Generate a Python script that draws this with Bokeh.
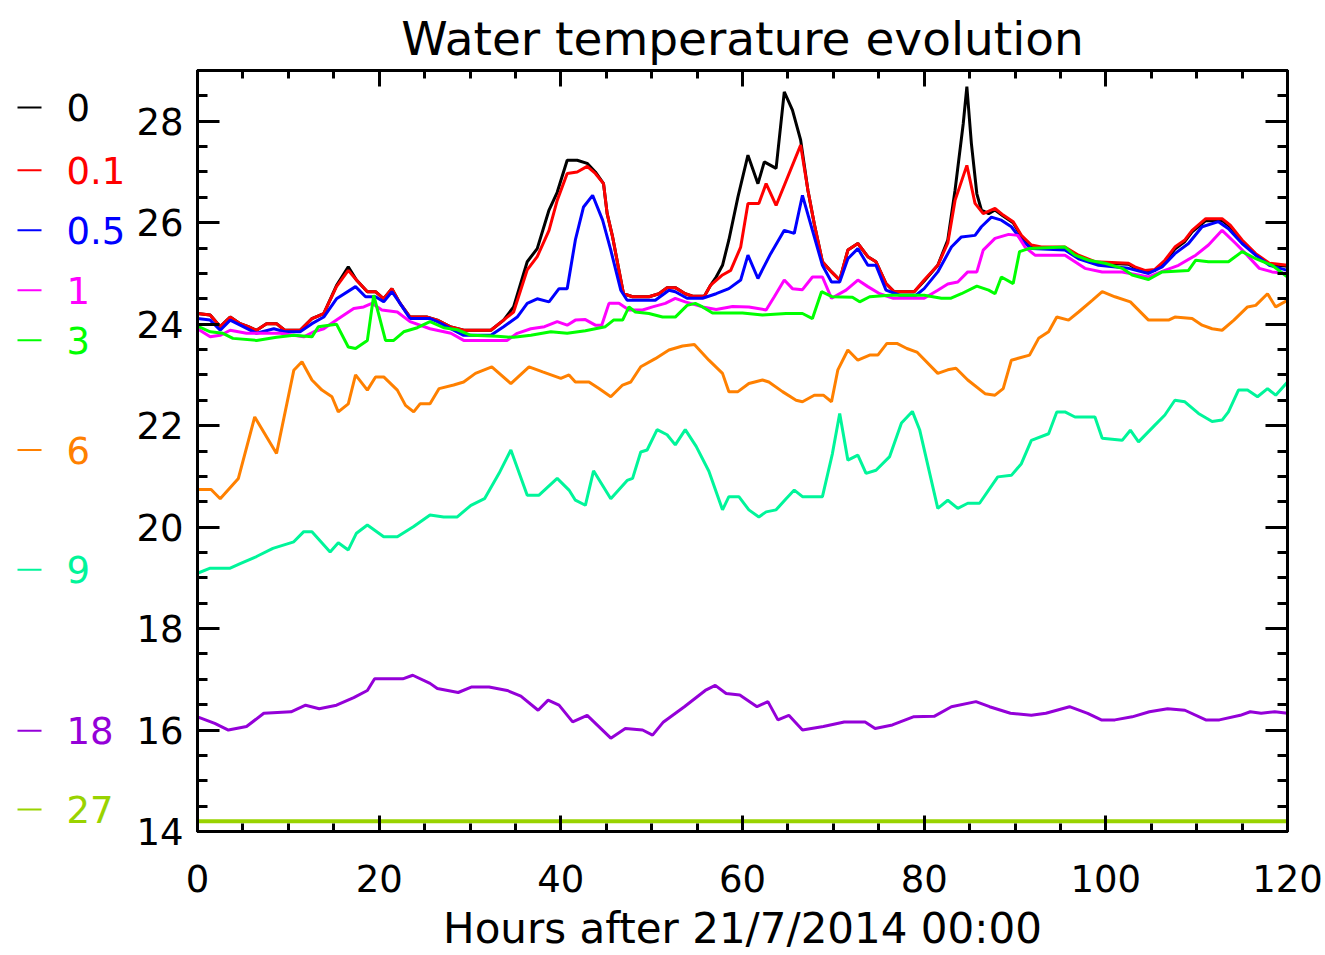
from bokeh.plotting import figure
from bokeh.layouts import row
from bokeh.models import LinearAxis, SingleIntervalTicker, Range1d, CustomJSTickFormatter
from bokeh.core.properties import value
from bokeh.embed import file_html
from bokeh.resources import INLINE

# ---------------- data (hours after 21/7/2014 00:00, temperature degC) ----------------
depth_labels = ["0", "0.1", "0.5", "1", "3", "6", "9", "18", "27"]
colors = ["#000000", "#ff0000", "#0000ff", "#ff00ff", "#00ff00", "#ff8000", "#00f59a", "#9400d8", "#99d300"]

h_0 = [0, 1.4, 2.5, 3.6, 4.7, 5.6, 6.5, 7.6, 8.7, 9.6, 11.3, 12.6, 13.9, 15.3, 16.6, 17.5, 18.7, 19.6, 20.5, 21.4,
       22.3, 23.4, 25.3, 26.4, 27.8, 29.3, 32.3, 33.7, 34.8, 36.3, 37.4, 38.7, 39.6, 40.7, 41.8, 42.9, 43.8, 44.7,
       45.1, 45.7, 46.4, 46.9, 47.9, 49.7, 50.8, 51.7, 52.6, 53.7, 54.5, 55.8, 56.5, 57.1, 57.8, 58.5, 59.5, 60.6,
       61.7, 62.4, 63.7, 64.6, 65.5, 66.4, 67.2, 67.9, 68.8, 69.8, 70.7, 71.6, 72.7, 73.8, 74.7, 75.8, 76.7, 78.9,
       80.0, 81.5, 82.6, 83.4, 84.3, 84.7, 85.2, 85.8, 86.3, 87.1, 87.8, 88.7, 89.8, 90.7, 91.8, 92.9, 95.5, 97.0,
       98.8, 102.5, 103.2, 104.3, 105.4, 106.5, 107.6, 108.7, 109.5, 111.0, 112.8, 113.7, 115.0, 116.5, 118.0, 120]
t_0 = [24.21, 24.18, 23.95, 24.14, 24.01, 23.95, 23.88, 24.01, 24.01, 23.88, 23.88, 24.11, 24.21, 24.76, 25.13,
       24.87, 24.64, 24.64, 24.5, 24.7, 24.41, 24.14, 24.14, 24.08, 23.95, 23.88, 23.88, 24.08, 24.34, 25.23, 25.49,
       26.25, 26.6, 27.23, 27.23, 27.17, 27.0, 26.77, 26.18, 25.72, 25.06, 24.6, 24.54, 24.54, 24.6, 24.72, 24.72,
       24.6, 24.55, 24.55, 24.77, 24.93, 25.16, 25.66, 26.51, 27.33, 26.77, 27.2, 27.07, 28.58, 28.22, 27.63, 26.64,
       25.98, 25.23, 25.03, 24.87, 25.46, 25.59, 25.33, 25.23, 24.8, 24.64, 24.64, 24.85, 25.16, 25.66, 26.64, 27.95,
       28.68, 27.56, 26.57, 26.25, 26.18, 26.25, 26.13, 26.0, 25.73, 25.54, 25.5, 25.5, 25.34, 25.21, 25.18, 25.11,
       25.04, 25.06, 25.23, 25.48, 25.63, 25.82, 26.04, 26.04, 25.92, 25.63, 25.37, 25.18, 25.14]

h_01 = [0, 1.4, 2.5, 3.6, 4.7, 5.6, 6.5, 7.6, 8.7, 9.6, 11.3, 12.6, 13.9, 15.3, 16.6, 17.5, 18.7, 19.6, 20.5, 21.4,
        22.3, 23.4, 25.3, 26.4, 27.8, 29.3, 32.3, 33.7, 34.8, 36.3, 37.4, 38.7, 39.6, 40.7, 41.8, 42.9, 43.8, 44.7,
        45.1, 45.7, 46.4, 46.9, 47.9, 49.7, 50.8, 51.7, 52.6, 53.7, 54.5, 55.8, 56.5, 57.8, 58.7, 59.8, 60.6, 61.8,
        62.6, 63.7, 66.4, 67.2, 67.9, 68.8, 69.8, 70.7, 71.6, 72.7, 73.8, 74.7, 75.8, 76.7, 78.9, 80.0, 81.5, 82.6,
        83.4, 84.7, 85.6, 86.5, 87.8, 88.7, 89.8, 90.7, 91.8, 92.9, 95.5, 97.0, 98.8, 102.5, 103.2, 104.3, 105.4,
        106.5, 107.6, 108.7, 109.5, 111.0, 112.8, 113.7, 115.0, 116.5, 118.0, 120]
t_01 = [24.21, 24.18, 23.95, 24.14, 24.01, 23.95, 23.88, 24.01, 24.01, 23.88, 23.88, 24.11, 24.21, 24.74, 25.06,
        24.87, 24.64, 24.64, 24.5, 24.7, 24.41, 24.14, 24.14, 24.08, 23.95, 23.88, 23.88, 24.08, 24.24, 25.07, 25.33,
        25.85, 26.44, 26.97, 27.0, 27.11, 26.97, 26.77, 26.18, 25.72, 25.06, 24.6, 24.54, 24.54, 24.6, 24.72, 24.72,
        24.6, 24.55, 24.55, 24.77, 24.97, 25.06, 25.52, 26.38, 26.38, 26.77, 26.34, 27.53, 26.64, 25.98, 25.23, 25.03,
        24.87, 25.46, 25.59, 25.33, 25.23, 24.8, 24.64, 24.64, 24.87, 25.16, 25.6, 26.44, 27.13, 26.38, 26.18, 26.28,
        26.15, 26.02, 25.75, 25.56, 25.52, 25.52, 25.36, 25.23, 25.2, 25.13, 25.06, 25.08, 25.26, 25.52, 25.66, 25.85,
        26.08, 26.08, 25.95, 25.66, 25.39, 25.2, 25.16]

h_05 = [0, 1.4, 2.5, 3.6, 4.7, 6.5, 8.4, 9.6, 11.3, 12.6, 13.9, 15.3, 17.4, 18.5, 19.6, 20.5, 21.4, 22.3, 23.4, 25.6,
        26.4, 29.3, 32.3, 33.7, 35.2, 36.3, 37.4, 38.7, 39.8, 40.7, 41.6, 42.5, 43.5, 44.6, 45.5, 46.6, 47.3, 50.4,
        51.9, 52.6, 53.9, 55.6, 57.1, 58.5, 59.8, 60.6, 61.7, 63.1, 64.6, 65.7, 66.6, 67.7, 68.8, 69.8, 70.7, 71.6,
        72.7, 73.8, 74.7, 75.8, 77.3, 79.1, 80.0, 81.5, 83.0, 84.1, 85.6, 86.3, 87.4, 88.5, 89.6, 90.7, 91.8, 95.5,
        97.0, 99.2, 102.5, 104.7, 106.2, 107.6, 109.1, 110.6, 112.4, 113.5, 115.0, 116.5, 118.0, 120]
t_05 = [24.11, 24.08, 23.88, 24.08, 23.98, 23.82, 23.91, 23.85, 23.85, 24.01, 24.14, 24.5, 24.74, 24.54, 24.54,
        24.44, 24.64, 24.41, 24.11, 24.11, 24.05, 23.78, 23.78, 23.95, 24.14, 24.41, 24.5, 24.44, 24.7, 24.7, 25.66,
        26.31, 26.54, 26.05, 25.46, 24.67, 24.47, 24.47, 24.67, 24.64, 24.51, 24.51, 24.6, 24.7, 24.87, 25.36, 24.9,
        25.39, 25.85, 25.79, 26.54, 25.85, 25.16, 24.83, 24.83, 25.29, 25.49, 25.16, 25.16, 24.67, 24.57, 24.57, 24.7,
        25.03, 25.52, 25.72, 25.75, 25.92, 26.11, 26.05, 25.92, 25.66, 25.49, 25.46, 25.29, 25.16, 25.1, 25.0, 25.13,
        25.39, 25.59, 25.92, 26.02, 25.88, 25.59, 25.36, 25.16, 25.06]

h_1 = [0, 1.4, 2.5, 3.6, 5.4, 7.2, 9.1, 11.7, 12.8, 13.9, 15.3, 17.2, 18.3, 19.2, 20.3, 22.0, 23.4, 25.6, 27.9, 29.3,
       34.1, 35.2, 36.7, 38.2, 39.6, 40.7, 41.6, 42.7, 43.8, 44.5, 45.3, 46.4, 47.5, 49.0, 50.1, 51.5, 52.6, 53.7,
       55.6, 57.1, 58.9, 60.7, 62.6, 63.5, 64.6, 65.5, 66.6, 67.7, 68.8, 69.8, 71.4, 72.7, 73.8, 75.1, 76.6, 80.0,
       81.5, 82.6, 83.7, 84.8, 85.8, 86.5, 87.8, 89.3, 90.3, 91.1, 92.2, 95.5, 97.7, 99.6, 101.8, 104.7, 106.5, 108.0,
       109.9, 111.3, 112.8, 114.3, 115.4, 116.9, 118.3, 120]
t_1 = [23.91, 23.75, 23.78, 23.88, 23.82, 23.82, 23.82, 23.75, 23.85, 23.91, 24.08, 24.31, 24.34, 24.41, 24.28, 24.24,
       24.05, 23.91, 23.82, 23.68, 23.68, 23.82, 23.91, 23.95, 24.05, 23.98, 24.08, 24.09, 23.98, 23.98, 24.41, 24.41,
       24.28, 24.28, 24.34, 24.41, 24.51, 24.44, 24.34, 24.29, 24.35, 24.34, 24.28, 24.54, 24.87, 24.7, 24.68, 24.93,
       24.93, 24.51, 24.67, 24.87, 24.74, 24.6, 24.51, 24.51, 24.67, 24.79, 24.83, 25.03, 25.03, 25.46, 25.69, 25.77,
       25.75, 25.52, 25.36, 25.36, 25.1, 25.03, 25.03, 24.93, 25.06, 25.16, 25.36, 25.56, 25.85, 25.59, 25.39, 25.1,
       25.03, 25.0]

h_3 = [0, 1.4, 2.8, 3.9, 6.5, 8.7, 10.6, 12.6, 13.3, 15.3, 16.6, 17.4, 18.7, 19.4, 20.7, 21.6, 22.7, 24.2, 25.6, 27.1,
       28.6, 30.1, 33.0, 34.8, 36.7, 38.9, 40.7, 42.7, 44.9, 45.8, 46.8, 47.5, 48.2, 49.7, 51.2, 52.6, 53.9, 54.8,
       55.6, 56.7, 60.0, 62.2, 64.8, 66.6, 67.7, 68.7, 69.9, 72.1, 72.9, 74.0, 76.2, 80.0, 81.9, 82.9, 84.1, 85.8,
       87.1, 87.8, 88.5, 89.8, 90.5, 91.5, 95.5, 96.6, 98.1, 99.9, 101.8, 102.9, 104.7, 106.2, 109.1, 109.9, 111.3,
       113.5, 115.0, 116.5, 118.3, 120]
t_3 = [23.96, 23.85, 23.82, 23.72, 23.68, 23.74, 23.78, 23.75, 23.95, 24.0, 23.55, 23.52, 23.68, 24.57, 23.68, 23.68,
       23.85, 23.93, 24.05, 23.93, 23.89, 23.78, 23.76, 23.74, 23.78, 23.85, 23.82, 23.87, 23.95, 24.08, 24.08, 24.34,
       24.24, 24.21, 24.14, 24.14, 24.37, 24.41, 24.34, 24.22, 24.22, 24.18, 24.21, 24.21, 24.11, 24.64, 24.54, 24.53,
       24.44, 24.54, 24.57, 24.57, 24.51, 24.51, 24.6, 24.75, 24.67, 24.6, 24.93, 24.8, 25.43, 25.49, 25.52, 25.36,
       25.26, 25.2, 25.1, 24.97, 24.88, 25.03, 25.06, 25.26, 25.23, 25.23, 25.43, 25.29, 25.16, 24.93]

h_6 = [0, 1.5, 2.5, 4.5, 6.3, 8.7, 10.6, 11.5, 12.6, 13.7, 14.8, 15.5, 16.6, 17.4, 18.7, 19.6, 20.5, 22.0, 22.9, 23.8,
       24.5, 25.6, 26.6, 28.2, 29.3, 30.6, 32.4, 34.5, 36.5, 38.0, 40.0, 40.9, 41.6, 43.1, 44.2, 45.5, 46.8, 47.7,
       48.8, 50.4, 51.9, 53.4, 54.7, 56.3, 57.8, 58.5, 59.5, 60.7, 62.2, 62.9, 64.4, 65.9, 66.6, 67.9, 68.9, 69.8,
       70.5, 71.6, 72.7, 74.0, 74.9, 75.9, 77.0, 78.1, 79.2, 81.5, 82.6, 83.5, 84.8, 86.7, 87.8, 88.7, 89.6, 91.6,
       92.6, 93.7, 94.6, 95.9, 97.0, 98.5, 99.6, 101.0, 102.7, 104.7, 106.9, 107.6, 109.5, 110.6, 111.7, 112.8, 114.1,
       115.6, 116.5, 117.8, 118.7, 120]
t_6 = [20.74, 20.74, 20.56, 20.96, 22.17, 21.45, 23.09, 23.26, 22.9, 22.7, 22.57, 22.27, 22.43, 23.0, 22.7, 22.96,
       22.96, 22.7, 22.4, 22.27, 22.43, 22.43, 22.73, 22.8, 22.86, 23.03, 23.16, 22.83, 23.16, 23.06, 22.93, 23.0,
       22.86, 22.86, 22.73, 22.57, 22.8, 22.86, 23.16, 23.32, 23.49, 23.57, 23.6, 23.29, 23.03, 22.67, 22.67, 22.83,
       22.9, 22.86, 22.67, 22.5, 22.47, 22.6, 22.6, 22.47, 23.1, 23.49, 23.29, 23.39, 23.39, 23.62, 23.62, 23.52,
       23.45, 23.03, 23.1, 23.13, 22.9, 22.63, 22.6, 22.73, 23.29, 23.39, 23.72, 23.85, 24.14, 24.08, 24.24, 24.47,
       24.64, 24.54, 24.44, 24.08, 24.08, 24.14, 24.11, 23.98, 23.91, 23.88, 24.08, 24.34, 24.37, 24.6, 24.34, 24.47]

h_9 = [0, 1.4, 3.6, 4.7, 6.5, 8.3, 10.6, 11.7, 12.6, 14.6, 15.5, 16.6, 17.5, 18.7, 20.5, 22.0, 23.8, 25.6, 27.1, 28.6,
       30.1, 31.6, 33.2, 34.5, 36.3, 37.6, 39.6, 40.9, 41.6, 42.7, 43.6, 45.5, 47.3, 47.9, 48.8, 49.5, 50.6, 51.7,
       52.6, 53.7, 54.9, 56.3, 57.8, 58.5, 59.6, 60.7, 61.8, 62.6, 63.7, 64.8, 65.7, 66.6, 68.8, 69.9, 70.7, 71.6,
       72.7, 73.6, 74.7, 76.2, 77.5, 78.7, 79.5, 81.5, 82.6, 83.7, 84.8, 86.1, 88.1, 89.6, 90.7, 91.8, 93.7, 94.6,
       95.5, 96.6, 98.8, 99.6, 101.8, 102.7, 103.6, 105.4, 106.5, 107.6, 108.7, 110.2, 111.7, 112.8, 113.5, 114.6,
       115.6, 116.7, 117.8, 118.7, 120]
t_9 = [19.09, 19.19, 19.19, 19.28, 19.42, 19.58, 19.71, 19.91, 19.91, 19.51, 19.69, 19.55, 19.88, 20.04, 19.81, 19.81,
       20.01, 20.24, 20.2, 20.2, 20.43, 20.56, 21.06, 21.52, 20.63, 20.63, 20.96, 20.73, 20.53, 20.43, 21.11, 20.56,
       20.92, 20.96, 21.48, 21.52, 21.92, 21.82, 21.62, 21.92, 21.59, 21.1, 20.34, 20.6, 20.6, 20.34, 20.2, 20.3,
       20.34, 20.56, 20.73, 20.6, 20.6, 21.45, 22.24, 21.32, 21.42, 21.06, 21.12, 21.39, 22.05, 22.28, 21.92, 20.37,
       20.53, 20.37, 20.47, 20.47, 20.99, 21.02, 21.25, 21.71, 21.84, 22.27, 22.27, 22.17, 22.17, 21.75, 21.71, 21.91,
       21.68, 22.01, 22.21, 22.5, 22.47, 22.24, 22.08, 22.11, 22.27, 22.7, 22.7, 22.57, 22.73, 22.6, 22.86]

h_18 = [0, 1.9, 3.4, 5.4, 7.3, 10.3, 11.9, 13.4, 15.3, 17.2, 18.7, 19.5, 22.6, 23.7, 25.6, 26.4, 28.7, 30.2, 32.1,
        34.1, 35.6, 37.5, 38.6, 39.8, 41.3, 42.9, 45.5, 47.1, 49.0, 50.1, 51.3, 53.6, 55.9, 57.0, 58.2, 59.7, 61.6,
        62.8, 63.9, 65.1, 66.6, 68.9, 71.2, 73.5, 74.6, 76.5, 78.8, 81.1, 83.0, 85.7, 87.2, 89.5, 91.8, 93.4, 96.0,
        98.0, 99.5, 101.0, 102.9, 104.8, 106.8, 108.7, 111.0, 112.5, 114.8, 115.9, 117.1, 118.6, 120]
t_18 = [16.26, 16.13, 16.0, 16.07, 16.33, 16.36, 16.49, 16.42, 16.49, 16.64, 16.78, 17.01, 17.01, 17.08, 16.92, 16.82,
        16.74, 16.85, 16.85, 16.78, 16.67, 16.39, 16.59, 16.49, 16.16, 16.29, 15.84, 16.03, 16.0, 15.9, 16.16, 16.46,
        16.78, 16.88, 16.72, 16.69, 16.46, 16.56, 16.2, 16.29, 16.0, 16.07, 16.16, 16.16, 16.03, 16.1, 16.26, 16.27,
        16.46, 16.56, 16.46, 16.33, 16.29, 16.33, 16.46, 16.33, 16.2, 16.2, 16.26, 16.36, 16.42, 16.39, 16.2, 16.2,
        16.29, 16.36, 16.33, 16.36, 16.33]

h_27 = [0, 120]
t_27 = [14.2, 14.2]

series_hours = [h_0, h_01, h_05, h_1, h_3, h_6, h_9, h_18, h_27]
series_temps = [t_0, t_01, t_05, t_1, t_3, t_6, t_9, t_18, t_27]

# legend rows: vertical positions in canvas pixels (layout only)
legend_rows_px = [107, 170, 230, 290, 340, 450, 570, 731, 810]

# ---------------- layout ----------------
H = 955
LEG_W = 130                      # width of the depth-legend strip
MAIN_W = 1325 - LEG_W
FT, FB = 70, 832                 # frame top / bottom in pixels
X0, X1, Y0, Y1 = 0, 120, 14, 29
FONT = "DejaVu Sans"

yr = Range1d(Y0, Y1)

p = figure(width=MAIN_W, height=H, x_range=Range1d(X0, X1), y_range=yr,
           output_backend="svg", toolbar_location=None,
           min_border_left=197 - LEG_W, min_border_right=38, min_border_top=FT, min_border_bottom=H - FB,
           title="Water temperature evolution")
below = p.below[0]
left = p.left[0]
p.xgrid.visible = False
p.ygrid.visible = False
p.outline_line_color = "black"
p.outline_line_width = 3
p.background_fill_color = "white"
p.border_fill_color = "white"

p.title.align = "center"
p.title.text_font = FONT
p.title.text_font_size = "47px"
p.title.text_font_style = "normal"
p.title.text_color = "black"
p.title.standoff = 10

blank = CustomJSTickFormatter(code="return '';")
right = LinearAxis(formatter=blank)
above = LinearAxis(formatter=blank)
p.add_layout(right, "right")
p.add_layout(above, "above")

for ax in [below, above]:
    ax.ticker = SingleIntervalTicker(interval=20, num_minor_ticks=4)
    ax.major_tick_in = 16
    ax.minor_tick_in = 8
for ax in [left, right]:
    ax.ticker = SingleIntervalTicker(interval=2, num_minor_ticks=4)
    ax.major_tick_in = 22
    ax.minor_tick_in = 10
for ax in [below, above, left, right]:
    ax.major_tick_out = 0
    ax.minor_tick_out = 0
    ax.axis_line_width = 3
    ax.axis_line_color = "black"
    ax.major_tick_line_width = 3
    ax.minor_tick_line_width = 3
    ax.major_tick_line_color = "black"
    ax.minor_tick_line_color = "black"
    ax.major_label_text_font = FONT
    ax.major_label_text_font_size = "37px"
    ax.major_label_text_color = "black"
for ax in [above, right]:
    ax.major_label_standoff = 0

below.major_label_standoff = 33
below.axis_label = "Hours after 21/7/2014 00:00"
below.axis_label_text_font = FONT
below.axis_label_text_font_size = "42px"
below.axis_label_text_font_style = "normal"
below.axis_label_text_color = "black"
below.axis_label_standoff = 9
left.major_label_standoff = 14

for hrs, tmp, col in zip(series_hours, series_temps, colors):
    lw = 4 if col == colors[-1] else 3
    p.line(hrs, tmp, line_color=col, line_width=lw)

# ---------------- depth legend strip at the left (shares the y scale) ----------------
lg = figure(width=LEG_W, height=H, x_range=Range1d(0, LEG_W), y_range=yr,
            output_backend="svg", toolbar_location=None,
            min_border_left=0, min_border_right=0, min_border_top=FT, min_border_bottom=H - FB)
lg.axis.visible = False
lg.grid.visible = False
lg.outline_line_color = None
lg.background_fill_color = "white"
lg.border_fill_color = "white"

def px_to_y(py):
    return Y1 - (py - FT) * (Y1 - Y0) / (FB - FT)

leg_y = [px_to_y(v) for v in legend_rows_px]
lg.segment(x0=[17] * len(leg_y), x1=[41] * len(leg_y), y0=leg_y, y1=leg_y, line_color=colors, line_width=2)
lg.text(x=[66] * len(leg_y), y=leg_y, text=depth_labels, text_color=colors,
        text_font=value(FONT), text_font_size="37px", text_baseline="middle", text_align="left")

layout = row(lg, p, spacing=0)
open("out.html", "w").write(file_html(layout, INLINE))
